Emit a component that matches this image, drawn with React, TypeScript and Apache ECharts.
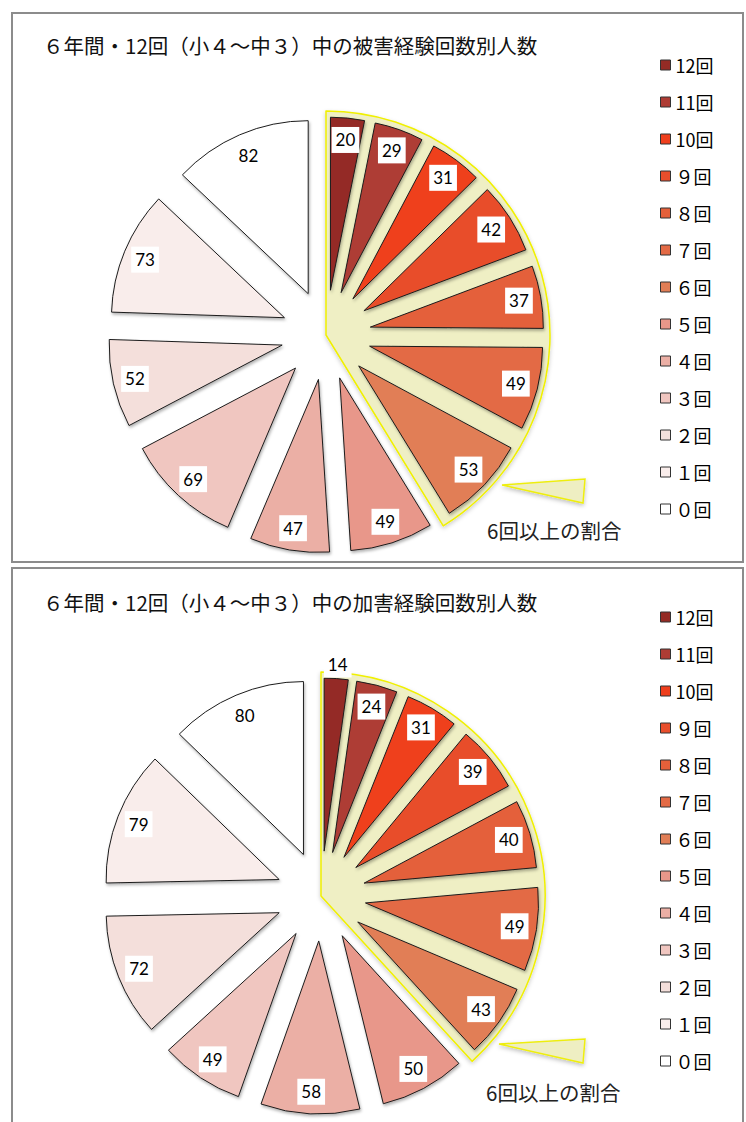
import React, { useEffect, useRef } from "react";
import * as echarts from "echarts";

// ---- data ----
const categories = ["12回", "11回", "10回", "９回", "８回", "７回", "６回", "５回", "４回", "３回", "２回", "１回", "０回"];
const victimCounts = [20, 29, 31, 42, 37, 49, 53, 49, 47, 69, 52, 73, 82];
const perpetratorCounts = [14, 24, 31, 39, 40, 49, 43, 50, 58, 49, 72, 79, 80];
const sliceColors = ["#942B25", "#AE3C34", "#EF3F1D", "#E84E2C", "#E4603A", "#E36A45", "#E17E56", "#E8978A", "#EBAFA5", "#F0C6C0", "#F4DFDB", "#F9EDEB", "#FFFFFF"];
const victimTitle = "６年間・12回（小４～中３）中の被害経験回数別人数";
const perpetratorTitle = "６年間・12回（小４～中３）中の加害経験回数別人数";
const noteText = "6回以上の割合";
const highlightCount = 7; // 12回 … 6回

const JP = '"Noto Sans CJK JP", "Noto Sans", sans-serif';
const NUM = 'Lato, "Open Sans", sans-serif';

type Props = {
  title: string;
  values: number[];
  top: number;
  height: number;
  center: [number, number];
  titleTop: number;
  legendTop: number;
  callout: number[][];
  noteX: number;
  noteY: number;
};

function ExplodedPie(p: Props) {
  const ref = useRef<HTMLDivElement>(null);
  useEffect(() => {
    if (!ref.current) return;
    const chart = echarts.init(ref.current, null, { renderer: "svg" });
    const total = p.values.reduce((a, b) => a + b, 0);
    const high = p.values.slice(0, highlightCount).reduce((a, b) => a + b, 0);
    const R = 173;
    const OFF = 45;
    const baseData = categories.map((name, i) => ({ name, value: p.values[i], selected: true }));

    chart.setOption({
      animation: false,
      title: {
        text: p.title,
        left: 43,
        top: p.titleTop,
        padding: 0,
        textStyle: { fontFamily: JP, fontSize: 20.5, fontWeight: "normal", color: "#111", lineHeight: 24 },
      },
      legend: {
        orient: "vertical",
        left: 660,
        top: p.legendTop,
        padding: 0,
        itemWidth: 10,
        itemHeight: 10,
        itemGap: 17,
        icon: "rect",
        selectedMode: false,
        data: categories,
        itemStyle: { borderColor: "#333", borderWidth: 1, shadowBlur: 0, shadowOffsetX: 0, shadowOffsetY: 0 },
        textStyle: { fontFamily: JP, fontSize: 18, lineHeight: 20, color: "#000" },
      },
      graphic: [
        {
          type: "polygon",
          shape: { points: p.callout },
          style: {
            fill: "#EEEEC2",
            stroke: "#EEEE10",
            lineWidth: 1.5,
            shadowBlur: 4,
            shadowOffsetY: 2,
            shadowColor: "rgba(0,0,0,0.25)",
          },
          z: 1,
        },
        {
          type: "text",
          x: p.noteX,
          y: p.noteY,
          style: { text: noteText, fontFamily: JP, fontSize: 20.5, fill: "#222", verticalAlign: "middle", align: "left" },
          z: 1,
        },
      ],
      series: [
        {
          type: "pie",
          id: "highlight",
          center: p.center,
          radius: 224,
          startAngle: 90,
          clockwise: true,
          silent: true,
          selectedMode: false,
          legendHoverLink: false,
          label: { show: false },
          labelLine: { show: false },
          emphasis: { disabled: true },
          z: 1,
          data: [
            {
              name: "6回以上",
              value: high,
              itemStyle: {
                color: "#EFEFC4",
                borderColor: "#F0F000",
                borderWidth: 1.5,
                shadowBlur: 4,
                shadowOffsetY: 2,
                shadowColor: "rgba(0,0,0,0.2)",
              },
            },
            { name: "6回未満", value: total - high, itemStyle: { color: "rgba(0,0,0,0)", borderWidth: 0 } },
          ],
        },
        {
          type: "pie",
          id: "slices",
          center: p.center,
          radius: R,
          startAngle: 90,
          clockwise: true,
          silent: true,
          selectedMode: "multiple",
          selectedOffset: OFF,
          label: { show: false },
          labelLine: { show: false },
          emphasis: { disabled: true },
          z: 2,
          itemStyle: {
            borderColor: "#1c1c1c",
            borderWidth: 1,
            shadowBlur: 3,
            shadowOffsetX: 1,
            shadowOffsetY: 2,
            shadowColor: "rgba(0,0,0,0.3)",
          },
          select: { itemStyle: { borderColor: "#1c1c1c", borderWidth: 1 } },
          data: baseData.map((d, i) => ({ ...d, itemStyle: { color: sliceColors[i] } })),
        },
        {
          type: "pie",
          id: "labels",
          center: p.center,
          radius: [123, R],
          startAngle: 90,
          clockwise: true,
          silent: true,
          selectedMode: "multiple",
          selectedOffset: OFF,
          avoidLabelOverlap: false,
          legendHoverLink: false,
          emphasis: { disabled: true },
          z: 3,
          itemStyle: { color: "rgba(0,0,0,0)", borderWidth: 0 },
          select: { itemStyle: { color: "rgba(0,0,0,0)", borderWidth: 0 } },
          label: {
            show: true,
            position: "inside",
            formatter: "{c}",
            color: "#000",
            fontFamily: NUM,
            fontSize: 17,
            backgroundColor: "#fff",
            padding: [5, 4, 4, 4],
          },
          labelLine: { show: false },
          labelLayout: (params: any) => {
            const v = p.values[params.dataIndex];
            if ((v / total) * 360 < 10) return { dx: 3, dy: -36 };
            return {};
          },
          data: baseData,
        },
      ],
    });
    return () => chart.dispose();
  }, []);
  return <div ref={ref} style={{ position: "absolute", left: 0, top: p.top, width: 746, height: p.height }} />;
}

export default function App() {
  return (
    <div style={{ position: "absolute", left: 0, top: 0, width: 746, height: 1122, overflow: "hidden", background: "#fff" }}>
      <div style={{ position: "absolute", left: 11, top: 12, width: 733, height: 551, border: "2px solid #8c8c8c", boxSizing: "border-box" }} />
      <div style={{ position: "absolute", left: 11, top: 567, width: 733, height: 600, border: "2px solid #8c8c8c", boxSizing: "border-box" }} />
      <ExplodedPie
        title={victimTitle}
        values={victimCounts}
        top={0}
        height={565}
        center={[326, 335]}
        titleTop={33}
        legendTop={55}
        callout={[[502, 485], [585, 479], [583, 503]]}
        noteX={487}
        noteY={530}
      />
      <ExplodedPie
        title={perpetratorTitle}
        values={perpetratorCounts}
        top={565}
        height={557}
        center={[321, 331]}
        titleTop={25}
        legendTop={42}
        callout={[[499, 479], [585, 474], [583, 498]]}
        noteX={486}
        noteY={527}
      />
    </div>
  );
}
